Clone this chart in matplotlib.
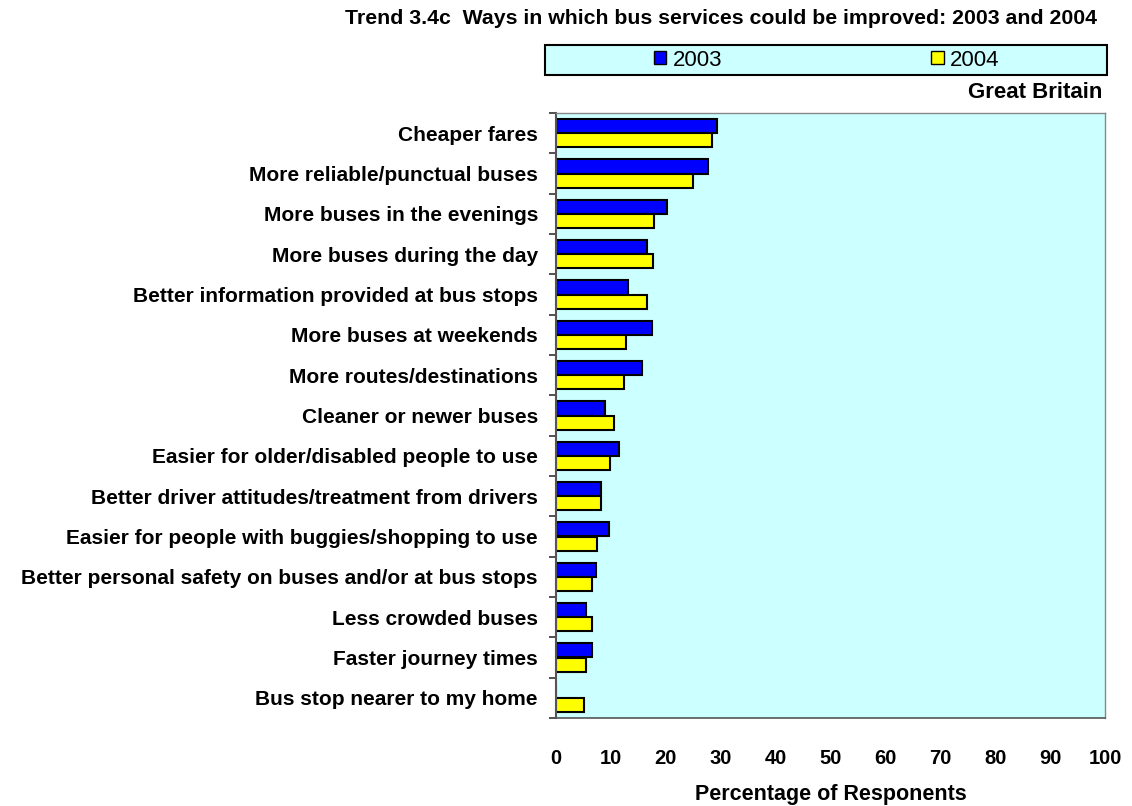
import matplotlib
matplotlib.use("Agg")
import matplotlib.pyplot as plt
from matplotlib.patches import Rectangle, Patch
import numpy as np

plt.rcParams['font.family'] = ['Liberation Sans', 'DejaVu Sans']
plt.rcParams['font.weight'] = 'bold'

categories = [
    "Cheaper fares",
    "More reliable/punctual buses",
    "More buses in the evenings",
    "More buses during the day",
    "Better information provided at bus stops",
    "More buses at weekends",
    "More routes/destinations",
    "Cleaner or newer buses",
    "Easier for older/disabled people to use",
    "Better driver attitudes/treatment from drivers",
    "Easier for people with buggies/shopping to use",
    "Better personal safety on buses and/or at bus stops",
    "Less crowded buses",
    "Faster journey times",
    "Bus stop nearer to my home",
]
values_2003 = [29.3, 27.7, 20.2, 16.6, 13.1, 17.4, 15.7, 8.9, 11.4, 8.2, 9.7, 7.2, 5.5, 6.5, 0.0]
values_2004 = [28.4, 25.0, 17.9, 17.6, 16.6, 12.7, 12.3, 10.6, 9.9, 8.2, 7.5, 6.5, 6.5, 5.5, 5.1]
series_labels = ["2003", "2004"]
x_ticks = list(range(0, 101, 10))

W, H = 1132, 806
fig = plt.figure(figsize=(W / 100, H / 100), dpi=100)
fig.patch.set_facecolor('white')

ax = fig.add_axes([556 / W, 1 - 718 / H, (1105 - 556) / W, (718 - 113) / H])
ax.set_facecolor('#CCFFFF')

n = len(categories)
pos = np.arange(n)
bh = 0.35
ax.barh(pos - bh / 2, values_2003, height=bh, color='#0000FF', edgecolor='black', linewidth=1.5, label=series_labels[0])
ax.barh(pos + bh / 2, values_2004, height=bh, color='#FFFF00', edgecolor='black', linewidth=1.5, label=series_labels[1])

ax.set_ylim(n - 0.5, -0.5)
ax.set_xlim(0, 100)
ax.set_yticks(pos)
ax.set_yticklabels(categories, fontsize=15, fontweight='bold')
ax.tick_params(axis='y', length=0, pad=13)
ax.set_yticks(np.arange(-0.5, n, 1.0), minor=True)
ax.tick_params(axis='y', which='minor', length=5, width=1.2, color='#333333')
ax.set_xticks(x_ticks)
ax.set_xticklabels([str(t) for t in x_ticks], fontsize=14.5, fontweight='bold')
ax.tick_params(axis='x', length=0, pad=22)

for side in ['top', 'right']:
    ax.spines[side].set_color('#888888')
    ax.spines[side].set_linewidth(1.0)
ax.spines['bottom'].set_color('#555555')
ax.spines['left'].set_color('#555555')
ax.spines['left'].set_linewidth(1.5)
ax.spines['bottom'].set_linewidth(1.2)

ax.set_xlabel("Percentage of Responents", fontsize=15.5, fontweight='bold', labelpad=12)

fig.text(1097 / W, 1 - 18 / H, "Trend 3.4c  Ways in which bus services could be improved: 2003 and 2004",
         ha='right', va='center', fontsize=15.3, fontweight='bold')
fig.text(1102 / W, 1 - 93 / H, "Great Britain", ha='right', va='center', fontsize=16, fontweight='bold')

# legend strip
fig.patches.append(Rectangle((545 / W, 1 - 75 / H), (1107 - 545) / W, 30 / H,
                             transform=fig.transFigure, facecolor='#CCFFFF',
                             edgecolor='black', linewidth=1.5, zorder=0))
handles = [Patch(facecolor='#0000FF', edgecolor='black'), Patch(facecolor='#FFFF00', edgecolor='black')]
fig.legend(handles, series_labels, loc='center', bbox_to_anchor=(827 / W, 1 - 60 / H),
           ncol=2, frameon=False, handlelength=0.55, handleheight=0.55,
           handletextpad=0.3, columnspacing=9.4, prop={'weight': 'normal', 'size': 16})

fig.savefig("out.png", dpi=100)
